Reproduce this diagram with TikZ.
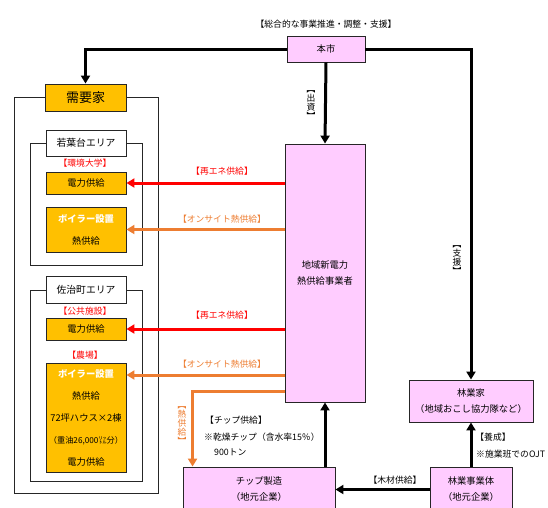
\documentclass[tikz,border=0pt]{standalone}
\usepackage{fontspec}
\setmainfont{Noto Sans CJK JP}
\usetikzlibrary{arrows.meta}
\definecolor{citypink}{HTML}{FFCCFF}
\definecolor{usergold}{HTML}{FFC000}
\definecolor{renered}{HTML}{FF0000}
\definecolor{heatorange}{HTML}{ED7D31}
\tikzset{
  party/.style={draw=black!85,fill=citypink,line width=0.9pt,align=center,
    font=\fontsize{9.3}{16}\selectfont},
  user box/.style={draw=black!85,fill=usergold,line width=0.9pt,align=center,
    minimum width=80pt,inner xsep=0pt,font=\fontsize{9.3}{22}\selectfont},
  user frame/.style={draw=black!85,line width=0.9pt},
  area tag/.style={draw=black!85,fill=white,line width=0.9pt,minimum width=80pt,
    minimum height=26pt,font=\fontsize{9.8}{11}\selectfont},
  note/.style={inner sep=0pt,font=\fontsize{8.8}{10}\selectfont},
  tate/.style={note,align=center,font=\fontsize{8.8}{9}\selectfont},
  main link/.style={draw=black,line width=3pt,-{Triangle[length=8pt,width=9pt]}},
  rene link/.style={draw=renered,line width=3pt,-{Triangle[length=8pt,width=9pt]}},
  heat link/.style={draw=heatorange,line width=3pt,-{Triangle[length=8pt,width=9pt]}}
}

\begin{document}
\begin{tikzpicture}[x=1pt,y=-1pt]
  \useasboundingbox (0,0) rectangle (548,507);
  % demand side
  \node[user frame,minimum width=144pt,minimum height=396pt] (users) at (86,295) {};
  \node[user frame,minimum width=112pt,minimum height=122pt] (wkframe) at (86,204) {};
  \node[user frame,minimum width=112pt,minimum height=191pt] (szframe) at (86,385.5) {};
  \node[user box,minimum width=81pt,minimum height=27pt,
    font=\fontsize{13}{15}\selectfont] (demand) at (85.5,97.5) {需要家};
  \node[area tag] (wktag) at (86,143) {若葉台エリア};
  \node[area tag,minimum height=27pt] (sztag) at (86,289.5) {佐治町エリア};
  \node[note,text=renered] (univ) at (85,163) {【環境大学】};
  \node[note,text=renered] (public) at (85,311) {【公共施設】};
  \node[note,text=renered] (farmlbl) at (85,355) {【農場】};
  \node[user box,minimum height=22pt] (wkpower) at (86,183) {電力供給};
  \node[user box,minimum height=45pt] (wkheat) at (86,229.5)
    {\textcolor{white}{\bfseries ボイラー設置}\\熱供給};
  \node[user box,minimum height=22pt] (szpower) at (86,329) {電力供給};
  \node[user box,minimum height=109pt] (farm) at (86,417.5)
    {\textcolor{white}{\bfseries ボイラー設置}\\熱供給\\72坪ハウス×2棟\\
     {\fontsize{8.2}{22}\selectfont（重油26,000㍑分）}\\電力供給};

  % suppliers
  \node[party,minimum width=78pt,minimum height=26pt] (city) at (326,49) {本市};
  \node[party,minimum width=80pt,minimum height=258pt] (supplier) at (325,273)
    {地域新電力\\熱供給事業者};
  \node[party,minimum width=124pt,minimum height=42pt] (forester) at (471,401)
    {林業家\\（地域おこし協力隊など）};
  \node[party,minimum width=82pt,minimum height=45pt] (forestco) at (471,489.5)
    {林業事業体\\（地元企業）};
  \node[party,minimum width=152pt,minimum height=45pt] (chip) at (259,489.5)
    {チップ製造\\（地元企業）};

  % links
  \draw[main link] (city.west) -| (demand.north);
  \draw[main link] (city.east) -| (forester.north);
  \draw[main link] (city.south) -- (supplier.north);
  \draw[rene link] (supplier.west |- wkpower) -- (wkpower.east);
  \draw[heat link] (supplier.west |- wkheat) -- (wkheat.east);
  \draw[rene link] (supplier.west |- szpower) -- (szpower.east);
  \draw[heat link] (supplier.west |- 0,375) -- (farm.east |- 0,375);
  \draw[heat link] (supplier.west |- 0,391) -| ([xshift=10pt]chip.north west);
  \draw[main link] (chip.north -| supplier.south) -- (supplier.south);
  \draw[main link] (forestco.west) -- (chip.east |- forestco.west);
  \draw[main link] (forestco.north) -- (forester.south);

  % labels
  \node[note] (overall) at (326,24) {【総合的な事業推進・調整・支援】};
  \node[tate] (invest) at (311,105) {︻\\出\\資\\︼};
  \node[tate] (support) at (457,260) {︻\\支\\援\\︼};
  \node[tate,text=heatorange] (heatlbl) at (182,426) {︻\\熱\\供\\給\\︼};
  \node[note,text=renered] (rene1) at (222,171) {【再エネ供給】};
  \node[note,text=heatorange] (heat1) at (222,219) {【オンサイト熱供給】};
  \node[note,text=renered] (rene2) at (222,315) {【再エネ供給】};
  \node[note,text=heatorange] (heat2) at (222,364) {【オンサイト熱供給】};
  \node[note,anchor=west] (chiplbl) at (205,420) {【チップ供給】};
  \node[note,anchor=west] (chipnote) at (204,437) {{\bfseries ※}乾燥チップ（含水率15％）};
  \node[note,anchor=west] (chipton) at (214,452) {900トン};
  \node[note] (wood) at (395,480) {【木材供給】};
  \node[note] (train) at (493,437) {【養成】};
  \node[note,anchor=west] (ojt) at (476,454) {{\bfseries ※}施業班でのOJT};
\end{tikzpicture}
\end{document}
